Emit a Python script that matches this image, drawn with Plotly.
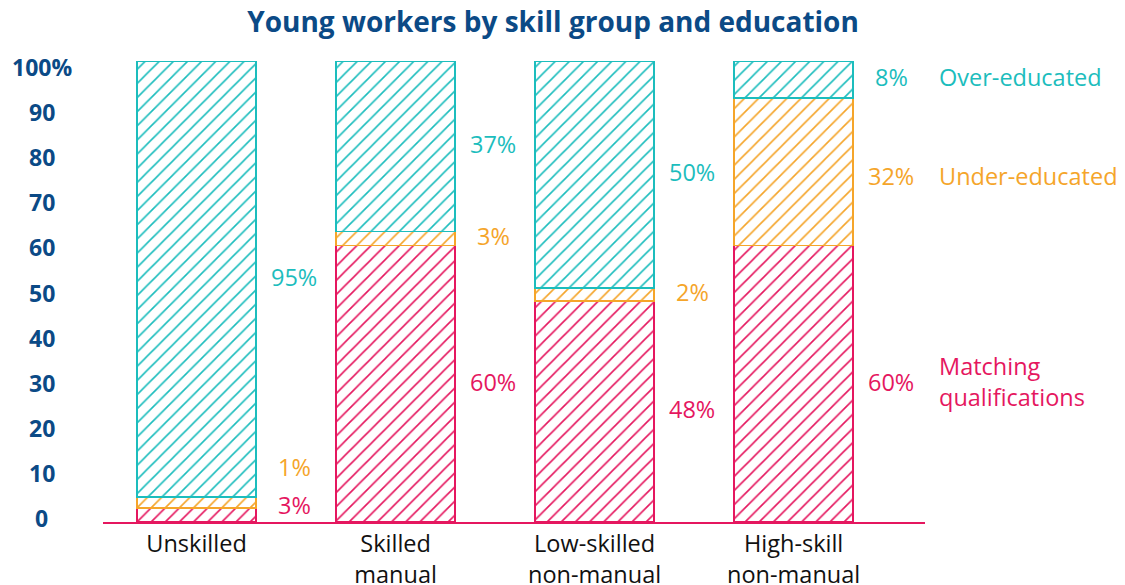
import plotly.graph_objects as go

categories = ["Unskilled", "Skilled<br>manual", "Low-skilled<br>non-manual", "High-skill<br>non-manual"]
matching = [3, 60, 48, 60]
under = [2.4, 3, 2.8, 32]
over = [94.6, 37, 49.2, 8]
matching_labels = ["3%", "60%", "48%", "60%"]
under_labels = ["1%", "3%", "2%", "32%"]
over_labels = ["95%", "37%", "50%", "8%"]
series_names = ["Matching<br>qualifications", "Under-educated", "Over-educated"]
y_ticks = [0, 10, 20, 30, 40, 50, 60, 70, 80, 90, 100]

PINK = "#e5175f"
ORANGE = "#f5a52a"
TEAL = "#1cbdbd"
NAVY = "#0b4a86"
FONT = "Open Sans"
TXT = 23.5

x = list(range(len(categories)))
fig = go.Figure()
for vals, col, name in [(matching, PINK, series_names[0]), (under, ORANGE, series_names[1]), (over, TEAL, series_names[2])]:
    fig.add_trace(go.Bar(
        x=x, y=vals, name=name, width=0.6,
        marker=dict(color="white", line=dict(color=col, width=1.8),
                    pattern=dict(shape="/", fgcolor=col, bgcolor="white", fgopacity=1,
                                 size=10, solidity=0.16, fillmode="replace")),
        hoverinfo="skip", showlegend=False,
    ))

annotations = []
pix_shift = {(0, 0): 8, (0, 1): 34, (3, 1): -6}
for i in x:
    base = 0
    for s, (vals, labs, col) in enumerate([(matching, matching_labels, PINK), (under, under_labels, ORANGE), (over, over_labels, TEAL)]):
        mid = base + vals[i] / 2
        base += vals[i]
        annotations.append(dict(x=i + 0.49, y=mid, xref="x", yref="y", text=labs[i], showarrow=False,
                                xanchor="center", yanchor="middle", yshift=pix_shift.get((i, s), 0) + 2,
                                font=dict(family=FONT, size=TXT, color=col)))
last = len(categories) - 1
base = 0
for s, (vals, col) in enumerate([(matching, PINK), (under, ORANGE), (over, TEAL)]):
    mid = base + vals[last] / 2
    base += vals[last]
    annotations.append(dict(x=1.0146, y=mid, xref="paper", yref="y", text=series_names[s], showarrow=False,
                            xanchor="left", yanchor="middle", align="left", yshift=pix_shift.get((last, s), 0) + 2,
                            font=dict(family=FONT, size=TXT, color=col)))
for v in y_ticks:
    p = 519 - 4.51 * v
    annotations.append(dict(x=-0.0748, y=(522 - p) / 461, xref="paper", yref="paper",
                            text=f"{v}%" if v == 100 else str(v), showarrow=False,
                            xanchor="center", yanchor="middle", yshift=1,
                            font=dict(family=FONT, size=23, color=NAVY, weight="bold")))

fig.update_layout(
    barmode="stack",
    width=1125, height=585,
    margin=dict(l=103, r=200, t=61, b=63),
    paper_bgcolor="white", plot_bgcolor="white",
    title=dict(text="<b>Young workers by skill group and education</b>", x=0.4916, xref="container",
               xanchor="center", y=0.962, yref="container", yanchor="middle",
               font=dict(family=FONT, size=28, color=NAVY)),
    xaxis=dict(range=[-0.47, 3.66], tickvals=x, ticktext=categories, showgrid=False, zeroline=False,
               showline=True, linecolor=PINK, linewidth=2, ticks="", automargin=False,
               tickfont=dict(family=FONT, size=TXT, color="#111111")),
    yaxis=dict(range=[0, 100], showgrid=False, zeroline=False, showticklabels=False, showline=False,
               automargin=False),
    annotations=annotations,
)
fig.write_html("out.html")
